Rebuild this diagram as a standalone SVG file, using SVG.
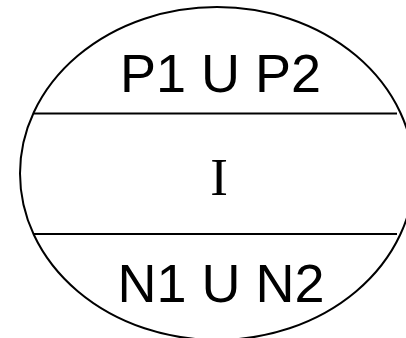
<svg xmlns="http://www.w3.org/2000/svg" width="406" height="338" viewBox="0 0 406 338">
<style>
.s{fill:none;stroke:#000;stroke-width:2}
.t{font-family:"Liberation Sans",Arial,sans-serif;font-size:54px;text-anchor:middle;fill:#000}
.r{font-family:"Liberation Serif","Times New Roman",serif;font-size:53px;text-anchor:middle;fill:#000}
</style>
<rect width="406" height="338" fill="#fff"/>
<g id="ellipse">
<ellipse class="s" cx="217" cy="173.5" rx="197" ry="166.5"/>
</g>
<g id="dividers">
<line class="s" x1="34" y1="113.5" x2="397" y2="113.5"/>
<line class="s" x1="34" y1="234" x2="397" y2="234"/>
</g>
<g id="top"><text class="t" x="220.5" y="91.5">P1 U P2</text></g>
<g id="mid"><text class="r" x="219" y="195">I</text></g>
<g id="bottom"><text class="t" x="221" y="301.5">N1 U N2</text></g>
</svg>
